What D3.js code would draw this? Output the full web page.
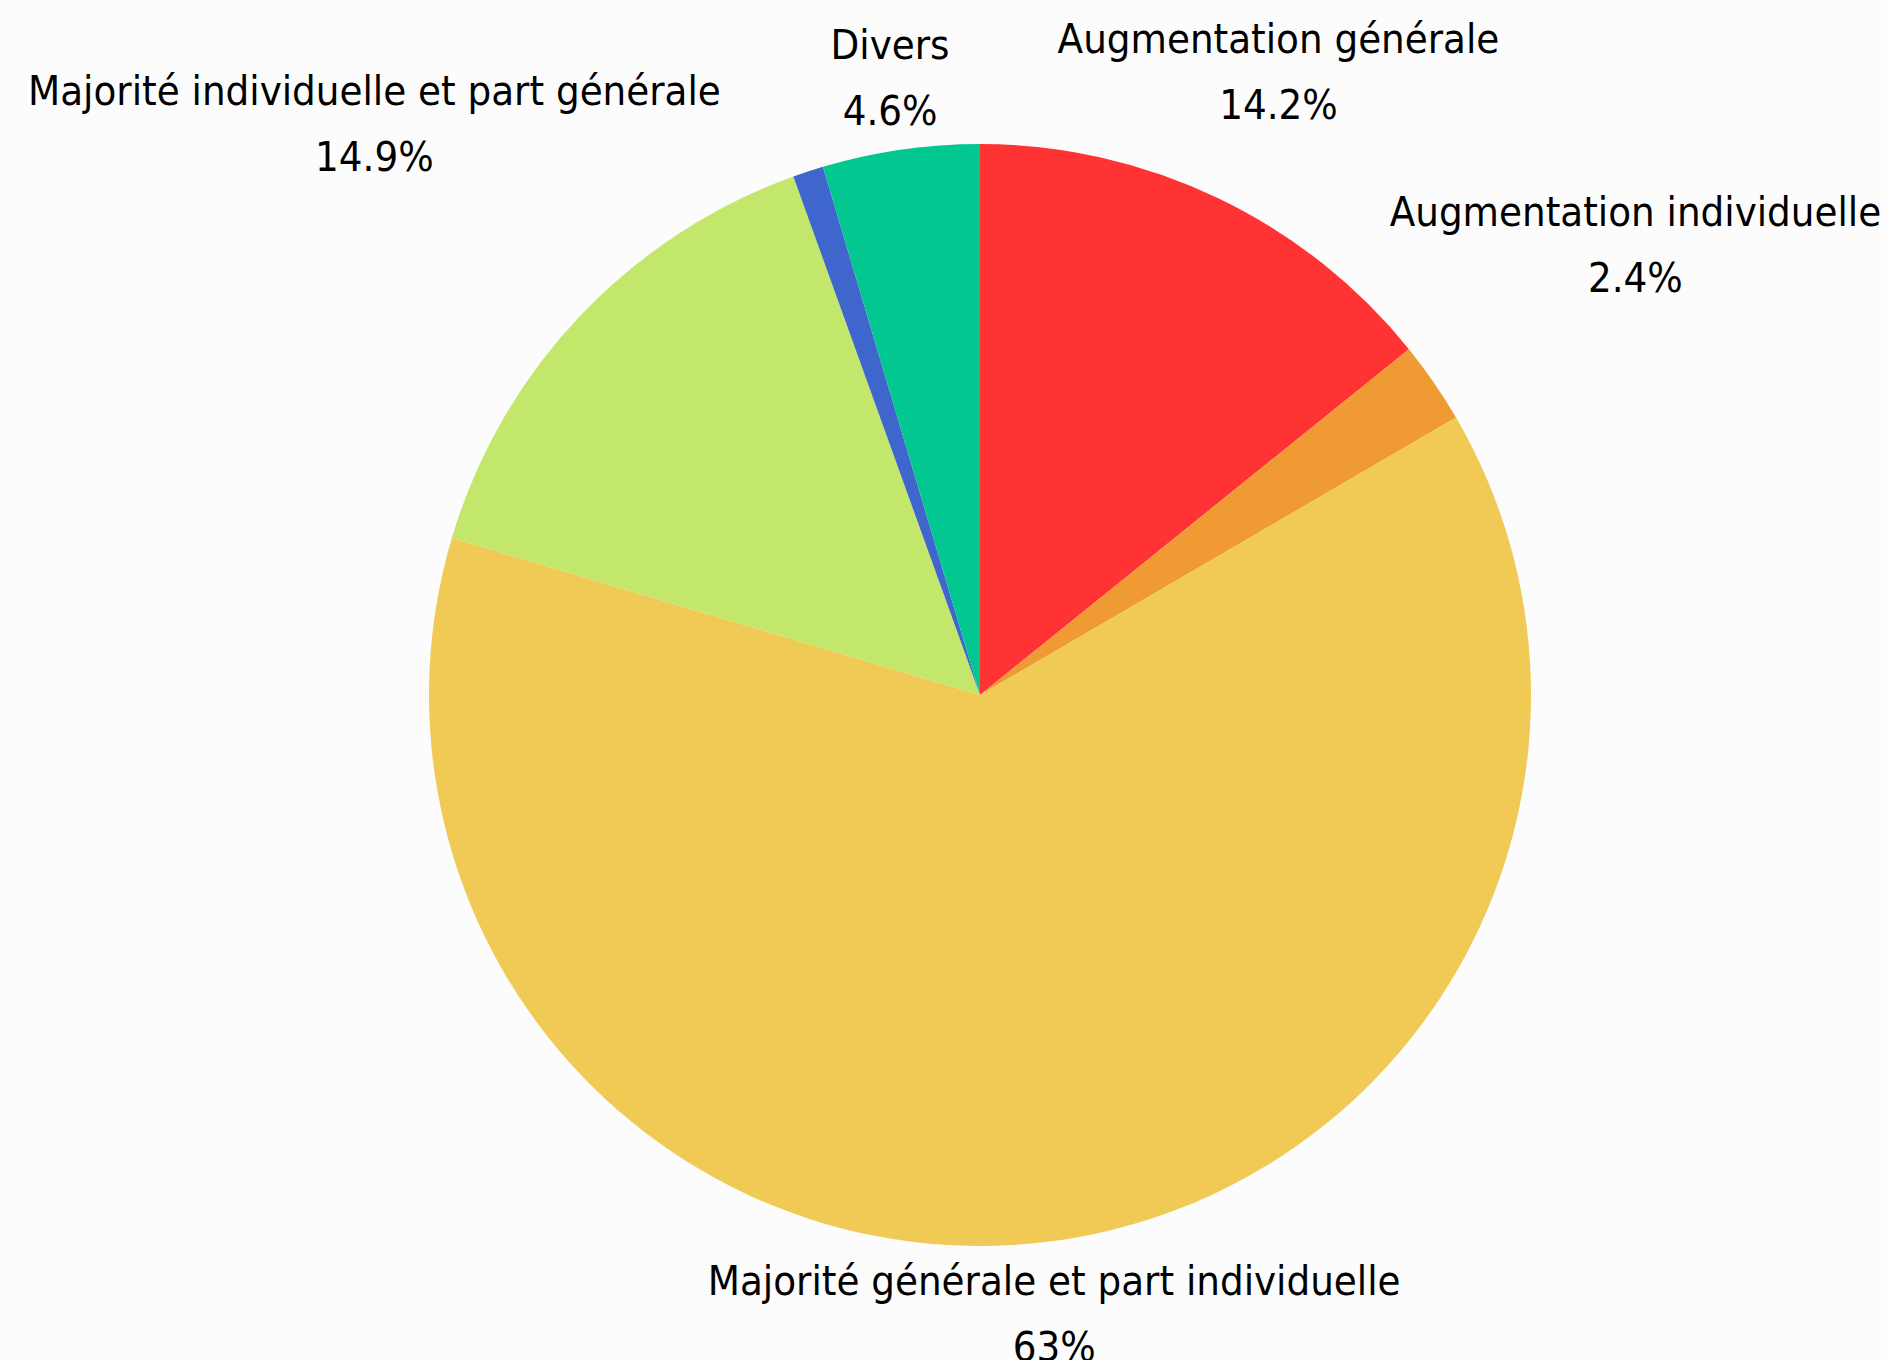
<!DOCTYPE html>
<html>
<head>
<meta charset="utf-8">
<script src="https://cdnjs.cloudflare.com/ajax/libs/d3/7.8.5/d3.min.js"></script>
<style>
  body { margin: 0; background: #fcfcfc; }
  svg { display: block; }
  .lbl { font-family: "DejaVu Sans Condensed", "DejaVu Sans", sans-serif; font-stretch: condensed; fill: #000; }
</style>
</head>
<body>
<svg id="chart"></svg>
<script>
var width = 1887;
var height = 1360;

// data, clockwise from 12 o'clock
var labels = ["Augmentation générale", "Augmentation individuelle",
              "Majorité générale et part individuelle", "Majorité individuelle et part générale",
              "", "Divers"];
var values = [14.2, 2.4, 63, 14.9, 0.9, 4.6];
var valueText = ["14.2%", "2.4%", "63%", "14.9%", "", "4.6%"];
var colors = ["#ff3334", "#ef9a33", "#f0ca55", "#c3e76a", "#3e66cc", "#03c791"];

var cx = 980, cy = 695, radius = 551;
var fontSize = 41.5;
var lineStep = 1.59;     // em, baseline to baseline
var capH = 0.73;         // em

var svg = d3.select("#chart")
    .attr("width", width)
    .attr("height", height);

var root = svg.append("g").attr("transform", "translate(" + cx + "," + cy + ")");

var slices = labels.map(function(l, i) {
    return { label: l, value: values[i], text: valueText[i], color: colors[i] };
});

var pie = d3.pie().sort(null).value(function(d) { return d.value; });
var arc = d3.arc().innerRadius(0).outerRadius(radius);

var arcs = pie(slices);

root.selectAll("path")
    .data(arcs)
    .enter()
    .append("path")
    .attr("d", arc)
    .attr("fill", function(d) { return d.data.color; });

// labels: two lines, centred on the slice's mid angle,
// pushed out further when the text is wide and the slice points sideways
var labelPad = 72;
var g = root.selectAll("g.label")
    .data(arcs.filter(function(d) { return d.data.label !== ""; }))
    .enter()
    .append("g")
    .attr("class", "label");

var txt = g.append("text")
    .attr("class", "lbl")
    .attr("text-anchor", "middle")
    .style("font-size", fontSize + "px");

txt.append("tspan")
    .attr("x", 0)
    .attr("y", 0)
    .text(function(d) { return d.data.label; });
txt.append("tspan")
    .attr("x", 0)
    .attr("dy", lineStep + "em")
    .text(function(d) { return d.data.text; });

g.each(function(d) {
    var w = this.getBBox().width;
    var top = -capH * fontSize, bottom = lineStep * fontSize;
    var a = (d.startAngle + d.endAngle) / 2;
    var sx = Math.sin(a), sy = -Math.cos(a);
    var dist = radius + labelPad + (Math.abs(sx) - 0.12) * w / 2;
    var mx = sx * dist, my = sy * dist;
    d3.select(this).attr("transform",
        "translate(" + mx + "," + (my - (top + bottom) / 2) + ")");
});
</script>
</body>
</html>
